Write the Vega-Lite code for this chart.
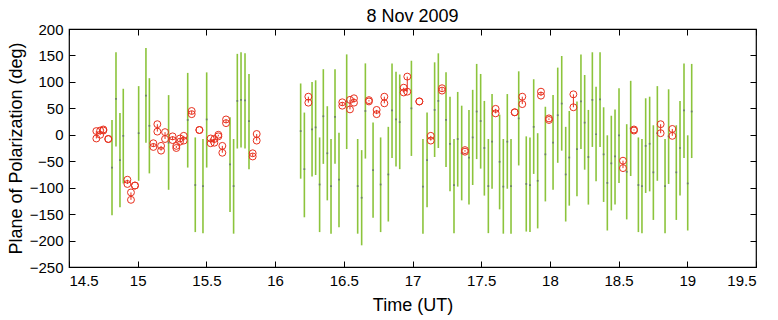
{
  "$schema": "https://vega.github.io/schema/vega-lite/v6.json",
  "width": 687,
  "height": 238,
  "autosize": "none",
  "padding": {"left": 69, "top": 29, "right": 22, "bottom": 53},
  "background": "white",
  "title": {"text": "8 Nov 2009", "font": "Liberation Sans", "fontSize": 18, "fontWeight": "normal", "color": "black", "offset": -4},
  "config": {
    "view": {"stroke": "black", "strokeWidth": 1.2},
    "axis": {"grid": false, "domain": false, "tickColor": "black", "tickSize": -6, "tickWidth": 1, "labelFont": "Liberation Sans", "labelFontSize": 15, "labelColor": "black", "titleFont": "Liberation Sans", "titleFontSize": 18, "titleFontWeight": "normal", "titleColor": "black", "labelPadding": 12}
  },
  "datasets": {
    "green": [
      {"x": 14.813, "lo": -152, "hi": 28, "c": -62},
      {"x": 14.842, "lo": -22, "hi": 156, "c": 68},
      {"x": 14.871, "lo": -137, "hi": 41, "c": -48},
      {"x": 14.895, "lo": -92, "hi": 87, "c": -2},
      {"x": 15.007, "lo": -87, "hi": 92, "c": 3},
      {"x": 15.060, "lo": -15, "hi": 164, "c": 74},
      {"x": 15.085, "lo": -73, "hi": 107, "c": 17},
      {"x": 15.225, "lo": -104, "hi": 75, "c": -15},
      {"x": 15.364, "lo": -62, "hi": 117, "c": 28},
      {"x": 15.419, "lo": -184, "hi": -5, "c": -95},
      {"x": 15.475, "lo": -186, "hi": -8, "c": -97},
      {"x": 15.502, "lo": -62, "hi": 118, "c": 29},
      {"x": 15.672, "lo": -146, "hi": 33, "c": -56},
      {"x": 15.698, "lo": -187, "hi": -8, "c": -97},
      {"x": 15.725, "lo": -26, "hi": 153, "c": 64},
      {"x": 15.752, "lo": -24, "hi": 156, "c": 66},
      {"x": 15.781, "lo": -26, "hi": 154, "c": 65},
      {"x": 15.810, "lo": -65, "hi": 115, "c": 26},
      {"x": 16.186, "lo": -83, "hi": 97, "c": 7},
      {"x": 16.213, "lo": -156, "hi": 42, "c": -65},
      {"x": 16.269, "lo": -79, "hi": 100, "c": 10},
      {"x": 16.295, "lo": -76, "hi": 103, "c": 14},
      {"x": 16.324, "lo": -184, "hi": -5, "c": -94},
      {"x": 16.351, "lo": -55, "hi": 124, "c": 35},
      {"x": 16.380, "lo": -124, "hi": 54, "c": -35},
      {"x": 16.407, "lo": -187, "hi": -8, "c": -97},
      {"x": 16.436, "lo": -55, "hi": 124, "c": 34},
      {"x": 16.465, "lo": -175, "hi": 4, "c": -85},
      {"x": 16.521, "lo": -27, "hi": 152, "c": 63},
      {"x": 16.601, "lo": -187, "hi": -8, "c": -97},
      {"x": 16.630, "lo": -209, "hi": -29, "c": -119},
      {"x": 16.657, "lo": -45, "hi": 135, "c": 45},
      {"x": 16.713, "lo": -157, "hi": 23, "c": -67},
      {"x": 16.768, "lo": -184, "hi": -5, "c": -94},
      {"x": 16.824, "lo": -164, "hi": 15, "c": -75},
      {"x": 16.851, "lo": -44, "hi": 135, "c": 46},
      {"x": 16.880, "lo": -60, "hi": 119, "c": 29},
      {"x": 16.907, "lo": -65, "hi": 114, "c": 24},
      {"x": 16.992, "lo": -40, "hi": 140, "c": 50},
      {"x": 17.076, "lo": -187, "hi": -8, "c": -98},
      {"x": 17.106, "lo": -137, "hi": 42, "c": -48},
      {"x": 17.161, "lo": -42, "hi": 137, "c": 47},
      {"x": 17.188, "lo": -25, "hi": 154, "c": 64},
      {"x": 17.244, "lo": -61, "hi": 118, "c": 28},
      {"x": 17.273, "lo": -107, "hi": 72, "c": -17},
      {"x": 17.302, "lo": -186, "hi": -8, "c": -95},
      {"x": 17.329, "lo": -98, "hi": 81, "c": -8},
      {"x": 17.358, "lo": -124, "hi": 55, "c": -35},
      {"x": 17.411, "lo": -132, "hi": 47, "c": -43},
      {"x": 17.438, "lo": -95, "hi": 85, "c": -5},
      {"x": 17.467, "lo": -46, "hi": 134, "c": 44},
      {"x": 17.496, "lo": -64, "hi": 115, "c": 26},
      {"x": 17.523, "lo": -115, "hi": 64, "c": -25},
      {"x": 17.552, "lo": -186, "hi": -8, "c": -97},
      {"x": 17.579, "lo": -102, "hi": 77, "c": -13},
      {"x": 17.634, "lo": -141, "hi": 38, "c": -51},
      {"x": 17.661, "lo": -187, "hi": -8, "c": -98},
      {"x": 17.690, "lo": -102, "hi": 77, "c": -13},
      {"x": 17.717, "lo": -187, "hi": -8, "c": -97},
      {"x": 17.773, "lo": -58, "hi": 120, "c": 31},
      {"x": 17.828, "lo": -183, "hi": -3, "c": -93},
      {"x": 17.855, "lo": -184, "hi": -5, "c": -95},
      {"x": 17.882, "lo": -74, "hi": 105, "c": 15},
      {"x": 17.911, "lo": -177, "hi": 3, "c": -87},
      {"x": 17.967, "lo": -126, "hi": 53, "c": -37},
      {"x": 18.023, "lo": -104, "hi": 75, "c": -15},
      {"x": 18.057, "lo": -53, "hi": 127, "c": 37},
      {"x": 18.086, "lo": -30, "hi": 149, "c": 59},
      {"x": 18.115, "lo": -164, "hi": 15, "c": -75},
      {"x": 18.141, "lo": -134, "hi": 45, "c": -43},
      {"x": 18.197, "lo": -116, "hi": 63, "c": -27},
      {"x": 18.226, "lo": -27, "hi": 152, "c": 63},
      {"x": 18.253, "lo": -66, "hi": 113, "c": 23},
      {"x": 18.280, "lo": -132, "hi": 47, "c": -42},
      {"x": 18.309, "lo": -23, "hi": 156, "c": 66},
      {"x": 18.336, "lo": -88, "hi": 91, "c": 1},
      {"x": 18.365, "lo": -23, "hi": 156, "c": 67},
      {"x": 18.391, "lo": -127, "hi": 52, "c": -37},
      {"x": 18.418, "lo": -181, "hi": -1, "c": -91},
      {"x": 18.447, "lo": -143, "hi": 36, "c": -54},
      {"x": 18.474, "lo": -132, "hi": 48, "c": -41},
      {"x": 18.503, "lo": -91, "hi": 88, "c": -1},
      {"x": 18.559, "lo": -160, "hi": 20, "c": -70},
      {"x": 18.588, "lo": -78, "hi": 102, "c": 12},
      {"x": 18.644, "lo": -184, "hi": -5, "c": -95},
      {"x": 18.670, "lo": -186, "hi": -8, "c": -97},
      {"x": 18.697, "lo": -110, "hi": 69, "c": -21},
      {"x": 18.726, "lo": -107, "hi": 72, "c": -17},
      {"x": 18.753, "lo": -161, "hi": 18, "c": -71},
      {"x": 18.782, "lo": -87, "hi": 92, "c": 3},
      {"x": 18.838, "lo": -186, "hi": -8, "c": -97},
      {"x": 18.864, "lo": -93, "hi": 86, "c": -3},
      {"x": 18.920, "lo": -161, "hi": 18, "c": -71},
      {"x": 18.947, "lo": -115, "hi": 64, "c": -25},
      {"x": 18.976, "lo": -44, "hi": 135, "c": 46},
      {"x": 19.003, "lo": -181, "hi": -1, "c": -92},
      {"x": 19.032, "lo": -44, "hi": 134, "c": 44}
    ],
    "red": [
      {"x": 14.699, "lo": -7, "hi": 7},
      {"x": 14.727, "lo": 0, "hi": 8},
      {"x": 14.750, "lo": 8, "hi": 10},
      {"x": 14.786, "lo": -8, "hi": -8},
      {"x": 14.925, "lo": -93, "hi": -85},
      {"x": 14.951, "lo": -123, "hi": -109},
      {"x": 14.980, "lo": -96, "hi": -96},
      {"x": 15.114, "lo": -23, "hi": -16},
      {"x": 15.143, "lo": 6, "hi": 20},
      {"x": 15.170, "lo": -30, "hi": -21},
      {"x": 15.199, "lo": -8, "hi": 5},
      {"x": 15.254, "lo": -10, "hi": -3},
      {"x": 15.281, "lo": -25, "hi": -21},
      {"x": 15.308, "lo": -13, "hi": -7},
      {"x": 15.335, "lo": -11, "hi": -2},
      {"x": 15.393, "lo": 39, "hi": 45},
      {"x": 15.449, "lo": 9, "hi": 9},
      {"x": 15.531, "lo": -16, "hi": -7},
      {"x": 15.558, "lo": -15, "hi": -8},
      {"x": 15.587, "lo": -3, "hi": 0},
      {"x": 15.616, "lo": -34, "hi": -21},
      {"x": 15.643, "lo": 22, "hi": 29},
      {"x": 15.837, "lo": -41, "hi": -35},
      {"x": 15.866, "lo": -11, "hi": 1.5},
      {"x": 16.242, "lo": 60.7, "hi": 72},
      {"x": 16.489, "lo": 55, "hi": 61.4},
      {"x": 16.545, "lo": 48, "hi": 66},
      {"x": 16.574, "lo": 60.7, "hi": 69},
      {"x": 16.683, "lo": 63, "hi": 65.5},
      {"x": 16.739, "lo": 39, "hi": 47},
      {"x": 16.795, "lo": 59.5, "hi": 72},
      {"x": 16.936, "lo": 80, "hi": 89},
      {"x": 16.962, "lo": 81.5, "hi": 110},
      {"x": 17.050, "lo": 63, "hi": 63},
      {"x": 17.133, "lo": -11, "hi": -2},
      {"x": 17.215, "lo": 83.5, "hi": 88},
      {"x": 17.382, "lo": -32, "hi": -29},
      {"x": 17.605, "lo": 40.5, "hi": 49},
      {"x": 17.744, "lo": 42.5, "hi": 42.5},
      {"x": 17.799, "lo": 58, "hi": 72},
      {"x": 17.935, "lo": 74, "hi": 81.5},
      {"x": 17.993, "lo": 28, "hi": 31},
      {"x": 18.171, "lo": 52, "hi": 76.5},
      {"x": 18.532, "lo": -63, "hi": -49},
      {"x": 18.612, "lo": 8, "hi": 10},
      {"x": 18.806, "lo": 3, "hi": 20},
      {"x": 18.891, "lo": -2, "hi": 11}
    ]
  },
  "resolve": {"scale": {"x": "independent", "y": "independent"}, "axis": {"x": "independent", "y": "independent"}},
  "layer": [
    {
      "encoding": {
        "x": {"field": "x", "type": "quantitative", "scale": {"domain": [14.5, 19.5], "nice": false, "zero": false},
              "axis": {"orient": "bottom", "title": "Time (UT)", "values": [14.5, 15, 15.5, 16, 16.5, 17, 17.5, 18, 18.5, 19, 19.5], "format": "~f", "titlePadding": 8}}
      },
      "layer": [
        {
          "data": {"name": "green"},
          "mark": {"type": "rule", "color": "#8cc43c", "strokeWidth": 1.6},
          "encoding": {
            "y": {"field": "lo", "type": "quantitative", "scale": {"domain": [-250, 200], "nice": false, "zero": false},
                  "axis": {"orient": "left", "title": "Plane of Polarization (deg)", "values": [-250, -200, -150, -100, -50, 0, 50, 100, 150, 200], "titlePadding": 4}},
            "y2": {"field": "hi"}
          }
        },
        {
          "data": {"name": "green"},
          "mark": {"type": "point", "shape": "square", "filled": true, "size": 3, "color": "#6a7f66", "opacity": 1},
          "encoding": {
            "y": {"field": "c", "type": "quantitative", "axis": {"orient": "left", "title": "Plane of Polarization (deg)", "values": [-250, -200, -150, -100, -50, 0, 50, 100, 150, 200], "titlePadding": 4}}
          }
        },
        {
          "data": {"name": "red"},
          "mark": {"type": "rule", "color": "#e8301e", "strokeWidth": 1},
          "encoding": {
            "y": {"field": "lo", "type": "quantitative", "axis": {"orient": "left", "title": "Plane of Polarization (deg)", "values": [-250, -200, -150, -100, -50, 0, 50, 100, 150, 200], "titlePadding": 4}},
            "y2": {"field": "hi"}
          }
        },
        {
          "data": {"name": "red"},
          "mark": {"type": "point", "shape": "circle", "filled": false, "size": 48, "stroke": "#e8301e", "strokeWidth": 1, "opacity": 1},
          "encoding": {
            "y": {"field": "lo", "type": "quantitative", "axis": {"orient": "left", "title": "Plane of Polarization (deg)", "values": [-250, -200, -150, -100, -50, 0, 50, 100, 150, 200], "titlePadding": 4}}
          }
        },
        {
          "data": {"name": "red"},
          "mark": {"type": "point", "shape": "circle", "filled": false, "size": 48, "stroke": "#e8301e", "strokeWidth": 1, "opacity": 1},
          "encoding": {
            "y": {"field": "hi", "type": "quantitative", "axis": {"orient": "left", "title": "Plane of Polarization (deg)", "values": [-250, -200, -150, -100, -50, 0, 50, 100, 150, 200], "titlePadding": 4}}
          }
        }
      ]
    },
    {
      "data": {"name": "green"},
      "mark": {"type": "point", "opacity": 0},
      "encoding": {
        "x": {"field": "x", "type": "quantitative", "scale": {"domain": [14.5, 19.5], "nice": false, "zero": false},
              "axis": {"orient": "top", "title": null, "labels": false, "values": [14.5, 15, 15.5, 16, 16.5, 17, 17.5, 18, 18.5, 19, 19.5]}},
        "y": {"field": "c", "type": "quantitative", "scale": {"domain": [-250, 200], "nice": false, "zero": false},
              "axis": {"orient": "right", "title": null, "labels": false, "values": [-250, -200, -150, -100, -50, 0, 50, 100, 150, 200]}}
      }
    }
  ]
}
